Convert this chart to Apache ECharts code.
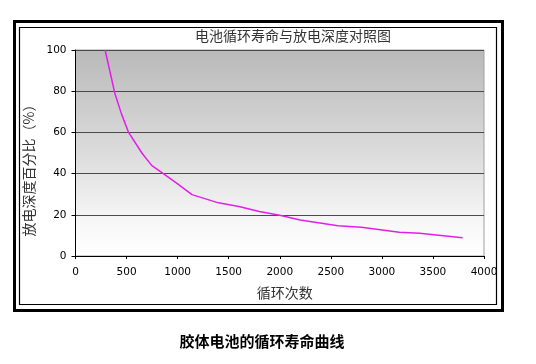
<!DOCTYPE html>
<html>
<head>
<meta charset="utf-8">
<script src="https://cdn.jsdelivr.net/npm/echarts@6/dist/echarts.min.js"></script>
<style>
html,body{margin:0;padding:0;background:#fff;}
#c{width:536px;height:364px;}
</style>
</head>
<body>
<div id="c"></div>
<script>
// Data
const cycles = [290, 385, 450, 520, 650, 745, 860, 1000, 1140, 1400, 1600, 1800, 2000, 2200, 2570, 2800, 3170, 3370, 3790];
const depthPct = [100, 79, 69, 60, 50, 44, 40, 35, 29.8, 25.8, 24, 21.6, 19.8, 17.5, 14.7, 13.9, 11.5, 11, 8.9];
const xTicks = [0, 500, 1000, 1500, 2000, 2500, 3000, 3500, 4000];
const yTicks = [0, 20, 40, 60, 80, 100];
const chartTitle = '电池循环寿命与放电深度对照图';
const xName = '循环次数';
const yName = '放电深度百分比（%）';
const caption = '胶体电池的循环寿命曲线';

const chart = echarts.init(document.getElementById('c'), null, {renderer: 'canvas'});
const cjk = '"Noto Sans CJK SC", sans-serif';
const num = '"DejaVu Sans", sans-serif';

chart.setOption({
  animation: false,
  backgroundColor: '#ffffff',
  title: [{
    text: chartTitle,
    left: 288, top: 24, textAlign: 'center',
    textStyle: {fontFamily: cjk, fontSize: 14, fontWeight: 'normal', color: '#333'}
  }, {
    text: caption,
    left: 257, top: 329, textAlign: 'center',
    textStyle: {fontFamily: cjk, fontSize: 15, fontWeight: 'bold', color: '#000'}
  }],
  graphic: [
    {type: 'rect', shape: {x: 14.5, y: 21.5, width: 488, height: 289}, style: {fill: 'none', stroke: '#000', lineWidth: 3}, silent: true},
    {type: 'rect', shape: {x: 19.5, y: 27.5, width: 477, height: 277}, style: {fill: 'none', stroke: '#000', lineWidth: 1.2}, silent: true}
  ],
  grid: {
    left: 75.5, right: 52, top: 50, bottom: 364 - 256,
    show: true, borderWidth: 1, borderColor: '#a0a0a0',
    backgroundColor: {
      type: 'linear', x: 0, y: 0, x2: 0, y2: 1,
      colorStops: [
        {offset: 0, color: '#b9b9b9'},
        {offset: 0.5, color: '#dcdcdc'},
        {offset: 0.85, color: '#f8f8f8'},
        {offset: 1, color: '#ffffff'}
      ]
    }
  },
  xAxis: {
    type: 'value', min: xTicks[0], max: xTicks[xTicks.length - 1], interval: 500,
    name: xName, nameLocation: 'middle', nameGap: 30,
    nameTextStyle: {fontFamily: cjk, fontSize: 14, color: '#333', padding: [0, 0, 0, 10]},
    axisLine: {show: true, lineStyle: {color: '#000', width: 1}},
    axisTick: {show: true, length: 3, lineStyle: {color: '#000'}},
    axisLabel: {fontFamily: num, fontSize: 10.5, color: '#000', margin: 11, formatter: v => String(v)},
    splitLine: {show: false}
  },
  yAxis: {
    type: 'value', min: yTicks[0], max: yTicks[yTicks.length - 1], interval: 20,
    name: yName, nameLocation: 'middle', nameGap: 28,
    nameTextStyle: {fontFamily: cjk, fontSize: 14, color: '#333', padding: [0, 28, 0, 0]},
    axisLine: {show: true, lineStyle: {color: '#000', width: 1}},
    axisTick: {show: true, length: 4, lineStyle: {color: '#000'}},
    axisLabel: {fontFamily: num, fontSize: 10.5, color: '#000', margin: 9, formatter: v => String(v)},
    splitLine: {show: true, lineStyle: {color: '#4a4a4a', width: 1}}
  },
  series: [{
    type: 'line',
    data: cycles.map((c, i) => [c, depthPct[i]]),
    showSymbol: false,
    smooth: false,
    lineStyle: {color: '#e020e8', width: 1.5},
    clip: true
  }]
});
</script>
</body>
</html>
